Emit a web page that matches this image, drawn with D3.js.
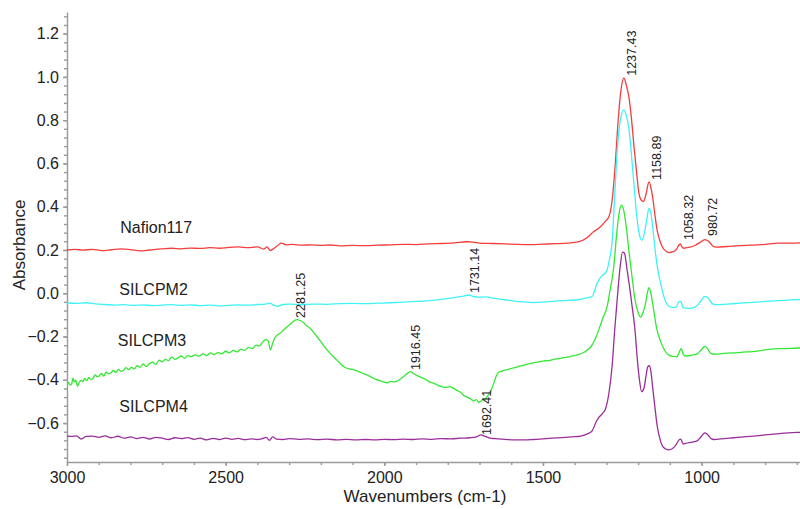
<!DOCTYPE html>
<meta charset="utf-8">
<style>

body {
  margin: 0;
  background: #fff;
}

svg {
  font-family: 'Liberation Sans', Arial, sans-serif;
}

.axis path,
.axis line {
  stroke: #9a9a9a;
  stroke-width: 1.4px;
}

.axis text {
  fill: #222;
  font-size: 16px;
}

.series {
  fill: none;
  stroke-width: 1.3px;
}

.series-label {
  fill: #222;
  font-size: 16px;
}

.peak-label {
  fill: #222;
  font-size: 12.5px;
}

.axis-title {
  fill: #222;
  font-size: 17px;
  text-anchor: middle;
}

</style>
<svg></svg>
<script src="https://d3js.org/d3.v7.min.js"></script>
<script>

// spectra as [wavenumber, absorbance]
var nafion117 = [
  [3000, 0.200], [2975, 0.203], [2950, 0.199], [2920, 0.203], [2890, 0.197], [2860, 0.201],
  [2830, 0.205], [2800, 0.202], [2770, 0.196], [2740, 0.200], [2700, 0.205], [2670, 0.208],
  [2640, 0.205], [2610, 0.209], [2580, 0.207], [2550, 0.211], [2520, 0.208], [2490, 0.212],
  [2460, 0.214], [2430, 0.211], [2400, 0.214], [2380, 0.204], [2370, 0.214], [2360, 0.198],
  [2350, 0.205], [2335, 0.222], [2325, 0.232], [2310, 0.224], [2290, 0.226], [2260, 0.222],
  [2230, 0.224], [2200, 0.221], [2170, 0.223], [2140, 0.219], [2100, 0.221], [2060, 0.220],
  [2020, 0.222], [1980, 0.224], [1940, 0.226], [1900, 0.225], [1860, 0.228], [1820, 0.230],
  [1780, 0.233], [1740, 0.238], [1720, 0.236], [1700, 0.232], [1660, 0.230], [1620, 0.228],
  [1580, 0.226], [1540, 0.225], [1500, 0.227], [1460, 0.229], [1420, 0.232], [1390, 0.237],
  [1360, 0.258], [1340, 0.285], [1324, 0.300], [1305, 0.330], [1292, 0.355], [1282, 0.430],
  [1272, 0.600], [1264, 0.780], [1255, 0.930], [1245, 0.995], [1237, 0.960], [1229, 0.905],
  [1220, 0.790], [1213, 0.675], [1205, 0.560], [1198, 0.465], [1190, 0.430], [1183, 0.425],
  [1175, 0.460], [1166, 0.515], [1160, 0.490], [1154, 0.440], [1147, 0.360], [1140, 0.290],
  [1132, 0.245], [1124, 0.215], [1113, 0.195], [1103, 0.188], [1090, 0.192], [1080, 0.202],
  [1072, 0.222], [1067, 0.228], [1062, 0.214], [1056, 0.208], [1040, 0.212], [1020, 0.222],
  [1005, 0.235], [990, 0.248], [978, 0.240], [966, 0.220], [955, 0.213], [920, 0.216],
  [880, 0.220], [840, 0.222], [800, 0.226], [760, 0.232], [720, 0.232], [690, 0.233]
];

var silcpm2 = [
  [3000, -0.045], [2970, -0.047], [2940, -0.044], [2910, -0.049], [2880, -0.052], [2850, -0.055],
  [2820, -0.053], [2790, -0.056], [2760, -0.054], [2730, -0.057], [2700, -0.055], [2670, -0.053],
  [2640, -0.056], [2610, -0.054], [2580, -0.057], [2550, -0.055], [2520, -0.058], [2490, -0.056],
  [2460, -0.054], [2430, -0.055], [2400, -0.052], [2375, -0.050], [2360, -0.046], [2350, -0.055],
  [2335, -0.060], [2320, -0.052], [2300, -0.050], [2260, -0.052], [2220, -0.050], [2180, -0.051],
  [2140, -0.048], [2100, -0.047], [2060, -0.048], [2020, -0.046], [1980, -0.044], [1940, -0.041],
  [1900, -0.038], [1860, -0.034], [1820, -0.028], [1780, -0.020], [1750, -0.013], [1733, -0.008],
  [1720, -0.015], [1700, -0.018], [1680, -0.017], [1650, -0.024], [1620, -0.030], [1590, -0.036],
  [1560, -0.040], [1530, -0.043], [1500, -0.041], [1460, -0.036], [1420, -0.033], [1390, -0.030],
  [1365, -0.022], [1345, -0.015], [1330, 0.045], [1315, 0.080], [1300, 0.100], [1290, 0.160],
  [1282, 0.240], [1274, 0.450], [1265, 0.680], [1255, 0.810], [1245, 0.848], [1237, 0.820],
  [1229, 0.760], [1220, 0.620], [1212, 0.480], [1204, 0.350], [1196, 0.270], [1188, 0.245],
  [1180, 0.280], [1172, 0.350], [1166, 0.392], [1160, 0.370], [1153, 0.290], [1145, 0.180],
  [1137, 0.100], [1129, 0.045], [1118, -0.020], [1105, -0.058], [1090, -0.066], [1080, -0.063],
  [1072, -0.040], [1066, -0.038], [1058, -0.068], [1045, -0.070], [1025, -0.066], [1010, -0.050],
  [1000, -0.030], [990, -0.015], [980, -0.022], [968, -0.046], [958, -0.053], [920, -0.050],
  [880, -0.046], [840, -0.042], [800, -0.038], [760, -0.034], [720, -0.031], [690, -0.029]
];

var silcpm3 = [
  [3000, -0.430], [2995, -0.412], [2990, -0.425], [2985, -0.418], [2981, -0.392], [2977, -0.410],
  [2972, -0.402], [2967, -0.430], [2962, -0.414], [2956, -0.403], [2950, -0.408], [2944, -0.394],
  [2938, -0.404], [2931, -0.389], [2925, -0.398], [2918, -0.393], [2911, -0.377], [2905, -0.386],
  [2898, -0.381], [2891, -0.371], [2884, -0.383], [2877, -0.365], [2870, -0.373], [2862, -0.369],
  [2854, -0.357], [2846, -0.366], [2838, -0.352], [2830, -0.361], [2822, -0.356], [2814, -0.344],
  [2806, -0.353], [2797, -0.343], [2788, -0.350], [2779, -0.335], [2770, -0.343], [2760, -0.327],
  [2750, -0.339], [2740, -0.325], [2730, -0.319], [2720, -0.329], [2710, -0.309], [2700, -0.317],
  [2690, -0.306], [2680, -0.311], [2670, -0.295], [2660, -0.305], [2650, -0.299], [2640, -0.290],
  [2630, -0.301], [2620, -0.288], [2608, -0.293], [2596, -0.285], [2584, -0.291], [2572, -0.280],
  [2560, -0.288], [2548, -0.276], [2536, -0.283], [2524, -0.274], [2512, -0.280], [2500, -0.268],
  [2488, -0.276], [2476, -0.264], [2464, -0.271], [2452, -0.258], [2440, -0.264], [2428, -0.250],
  [2416, -0.256], [2404, -0.240], [2394, -0.244], [2384, -0.226], [2374, -0.214], [2366, -0.220],
  [2359, -0.262], [2352, -0.232], [2345, -0.206], [2335, -0.191], [2325, -0.181], [2315, -0.166],
  [2305, -0.154], [2295, -0.141], [2285, -0.128], [2275, -0.122], [2265, -0.126], [2255, -0.135],
  [2245, -0.150], [2235, -0.160], [2225, -0.177], [2212, -0.201], [2200, -0.224], [2187, -0.250],
  [2175, -0.271], [2162, -0.291], [2150, -0.308], [2138, -0.326], [2125, -0.342], [2112, -0.349],
  [2100, -0.352], [2088, -0.358], [2075, -0.366], [2062, -0.374], [2050, -0.381], [2037, -0.391],
  [2025, -0.399], [2012, -0.405], [2000, -0.411], [1990, -0.414], [1980, -0.407], [1968, -0.410],
  [1955, -0.402], [1945, -0.392], [1935, -0.380], [1925, -0.368], [1918, -0.362], [1908, -0.372],
  [1895, -0.382], [1882, -0.390], [1870, -0.398], [1858, -0.410], [1845, -0.415], [1832, -0.425],
  [1820, -0.432], [1808, -0.435], [1795, -0.432], [1782, -0.440], [1770, -0.450], [1758, -0.460],
  [1748, -0.475], [1738, -0.480], [1728, -0.488], [1718, -0.498], [1710, -0.492], [1702, -0.505],
  [1695, -0.498], [1688, -0.490], [1680, -0.485], [1672, -0.470], [1664, -0.450], [1656, -0.420],
  [1648, -0.385], [1640, -0.365], [1630, -0.360], [1618, -0.355], [1605, -0.350], [1592, -0.345],
  [1580, -0.340], [1568, -0.335], [1555, -0.330], [1542, -0.325], [1530, -0.322], [1518, -0.318],
  [1505, -0.315], [1492, -0.312], [1478, -0.310], [1465, -0.305], [1450, -0.302], [1435, -0.298],
  [1420, -0.294], [1405, -0.290], [1390, -0.284], [1375, -0.276], [1360, -0.262], [1348, -0.245],
  [1335, -0.210], [1322, -0.160], [1310, -0.110], [1298, -0.063], [1288, 0.020], [1277, 0.120],
  [1268, 0.270], [1259, 0.380], [1252, 0.407], [1245, 0.380], [1237, 0.300], [1228, 0.180],
  [1218, 0.060], [1210, -0.030], [1200, -0.090], [1192, -0.110], [1185, -0.090], [1178, -0.055],
  [1171, 0.000], [1166, 0.026], [1160, 0.000], [1152, -0.070], [1142, -0.160], [1130, -0.220],
  [1118, -0.260], [1105, -0.285], [1090, -0.292], [1078, -0.294], [1070, -0.270], [1064, -0.256],
  [1058, -0.282], [1050, -0.290], [1030, -0.286], [1014, -0.280], [1000, -0.260], [990, -0.246],
  [982, -0.255], [972, -0.276], [962, -0.282], [930, -0.278], [900, -0.276], [870, -0.272],
  [840, -0.270], [810, -0.264], [780, -0.258], [750, -0.256], [720, -0.255], [690, -0.253]
];

var silcpm4 = [
  [3000, -0.660], [2985, -0.662], [2970, -0.659], [2955, -0.674], [2940, -0.662], [2920, -0.660],
  [2900, -0.666], [2880, -0.659], [2860, -0.668], [2840, -0.661], [2820, -0.670], [2800, -0.664],
  [2780, -0.672], [2760, -0.666], [2740, -0.674], [2720, -0.666], [2700, -0.670], [2680, -0.676],
  [2660, -0.668], [2640, -0.672], [2620, -0.667], [2600, -0.675], [2580, -0.670], [2560, -0.678],
  [2540, -0.671], [2520, -0.676], [2500, -0.670], [2480, -0.675], [2460, -0.671], [2440, -0.677],
  [2420, -0.673], [2400, -0.676], [2385, -0.672], [2372, -0.666], [2362, -0.680], [2352, -0.664],
  [2340, -0.674], [2320, -0.676], [2300, -0.672], [2270, -0.675], [2240, -0.673], [2210, -0.677],
  [2180, -0.674], [2150, -0.678], [2120, -0.675], [2090, -0.678], [2060, -0.676], [2030, -0.678],
  [2000, -0.675], [1970, -0.677], [1940, -0.674], [1910, -0.676], [1880, -0.673], [1850, -0.675],
  [1820, -0.672], [1790, -0.673], [1760, -0.670], [1730, -0.668], [1710, -0.664], [1695, -0.655],
  [1685, -0.660], [1670, -0.668], [1650, -0.672], [1620, -0.675], [1590, -0.678], [1560, -0.678],
  [1530, -0.676], [1500, -0.673], [1470, -0.670], [1440, -0.667], [1410, -0.664], [1380, -0.660],
  [1360, -0.650], [1345, -0.636], [1334, -0.600], [1324, -0.574], [1312, -0.555], [1303, -0.535],
  [1292, -0.460], [1282, -0.335], [1274, -0.170], [1266, -0.027], [1257, 0.120], [1249, 0.190],
  [1243, 0.185], [1236, 0.120], [1228, 0.040], [1220, -0.050], [1210, -0.170], [1203, -0.300],
  [1196, -0.400], [1189, -0.455], [1182, -0.440], [1175, -0.380], [1170, -0.340], [1165, -0.335],
  [1160, -0.360], [1154, -0.440], [1147, -0.530], [1140, -0.613], [1132, -0.670], [1124, -0.705],
  [1113, -0.720], [1103, -0.724], [1092, -0.718], [1082, -0.703], [1070, -0.676], [1066, -0.674],
  [1058, -0.697], [1050, -0.694], [1030, -0.688], [1014, -0.682], [1000, -0.660], [990, -0.645],
  [982, -0.652], [970, -0.672], [962, -0.676], [930, -0.672], [900, -0.668], [860, -0.663],
  [820, -0.658], [780, -0.652], [740, -0.647], [700, -0.643], [690, -0.643]
];

var seriesNames = ['Nafion117', 'SILCPM2', 'SILCPM3', 'SILCPM4'];
var seriesColors = ['#f43d3d', '#3ff2f7', '#33e833', '#9a2e9a'];
// where each name sits: [wavenumber, absorbance]
var seriesLabelAt = [[2832, 0.28], [2835, -0.01], [2840, -0.245], [2835, -0.55]];

// peak annotations: [text, wavenumber, absorbance at the foot of the text]
var peakLabels = [
  ['1237.43', 1237.43, 1.005],
  ['1158.89', 1158.89, 0.524],
  ['1058.32', 1058.32, 0.246],
  ['980.72', 980.72, 0.265],
  ['1731.14', 1731.14, 0.001],
  ['2281.25', 2281.25, -0.114],
  ['1916.45', 1916.45, -0.355],
  ['1692.41', 1692.41, -0.655]
];

var yMajorTicks = [-0.6, -0.4, -0.2, 0.0, 0.2, 0.4, 0.6, 0.8, 1.0, 1.2];
var xMajorTicks = [3000, 2500, 2000, 1500, 1000];

var series = [nafion117, silcpm2, silcpm3, silcpm4];

var width = 800;
var height = 509;
var plot = { left: 67, right: 800, top: 12, bottom: 462 };

var x = d3.scaleLinear().domain([3000, 690]).range([plot.left, plot.right]);
var y = d3.scaleLinear().domain([-0.78, 1.3]).range([plot.bottom, plot.top]);

var svg = d3.select('svg')
  .attr('width', width)
  .attr('height', height);

svg.append('defs').append('clipPath')
  .attr('id', 'plot-clip')
  .append('rect')
  .attr('x', plot.left)
  .attr('y', plot.top)
  .attr('width', plot.right - plot.left)
  .attr('height', plot.bottom - plot.top);

// minor ticks first, then the labelled ones on top
svg.append('g')
  .attr('class', 'axis')
  .attr('transform', 'translate(' + plot.left + ',0)')
  .call(d3.axisLeft(y).tickValues(d3.range(-0.76, 1.30, 0.04)).tickSize(3).tickFormat(''))
  .select('.domain').remove();

svg.append('g')
  .attr('class', 'axis')
  .attr('transform', 'translate(0,' + plot.bottom + ')')
  .call(d3.axisBottom(x).tickValues(d3.range(3000, 690, -100)).tickSize(3).tickFormat(''))
  .select('.domain').remove();

svg.append('g')
  .attr('class', 'axis')
  .attr('transform', 'translate(' + plot.left + ',0)')
  .call(d3.axisLeft(y).tickValues(yMajorTicks).tickSize(4).tickSizeOuter(0).tickPadding(4).tickFormat(d3.format('.1f')));

svg.append('g')
  .attr('class', 'axis')
  .attr('transform', 'translate(0,' + plot.bottom + ')')
  .call(d3.axisBottom(x).tickValues(xMajorTicks).tickSize(4).tickSizeOuter(0).tickPadding(6).tickFormat(d3.format('d')));

var line = d3.line()
  .x(function (d) { return x(d[0]); })
  .y(function (d) { return y(d[1]); })
  .curve(d3.curveMonotoneX);

svg.append('g')
  .attr('clip-path', 'url(#plot-clip)')
  .selectAll('path')
  .data(series)
  .enter().append('path')
  .attr('class', 'series')
  .attr('stroke', function (d, i) { return seriesColors[i]; })
  .attr('d', line);

svg.append('g')
  .selectAll('text')
  .data(seriesNames)
  .enter().append('text')
  .attr('class', 'series-label')
  .attr('x', function (d, i) { return x(seriesLabelAt[i][0]); })
  .attr('y', function (d, i) { return y(seriesLabelAt[i][1]); })
  .text(function (d) { return d; });

svg.append('g')
  .selectAll('text')
  .data(peakLabels)
  .enter().append('text')
  .attr('class', 'peak-label')
  .attr('transform', function (d) {
    return 'translate(' + (x(d[1]) + 9.5) + ',' + y(d[2]) + ') rotate(-90)';
  })
  .text(function (d) { return d[0]; });

svg.append('text')
  .attr('class', 'axis-title')
  .attr('transform', 'translate(25,' + ((plot.top + plot.bottom) / 2 + 8) + ') rotate(-90)')
  .text('Absorbance');

svg.append('text')
  .attr('class', 'axis-title')
  .attr('x', 425)
  .attr('y', 502)
  .text('Wavenumbers (cm-1)');

</script>
